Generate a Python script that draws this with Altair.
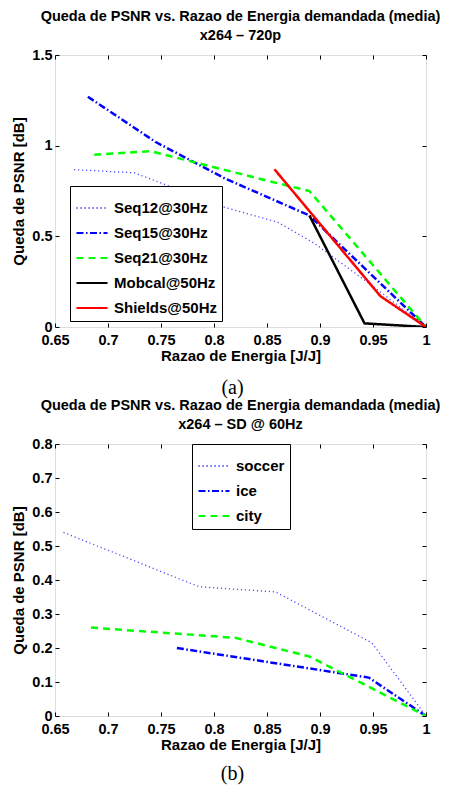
import altair as alt
import pandas as pd

FONT = "Liberation Sans"

# ---------------- Panel (a) data ----------------
a_series = ["Seq12@30Hz", "Seq15@30Hz", "Seq21@30Hz", "Mobcal@50Hz", "Shields@50Hz"]
seq12_x = [0.668, 0.725, 0.81, 0.86, 0.895, 0.95, 1.0]
seq12_y = [0.868, 0.85, 0.66, 0.578, 0.46, 0.225, 0.0]
seq15_x = [0.681, 0.745, 0.81, 0.89, 1.0]
seq15_y = [1.27, 1.02, 0.82, 0.615, 0.0]
seq21_x = [0.687, 0.74, 0.855, 0.89, 1.0]
seq21_y = [0.95, 0.97, 0.80, 0.75, 0.0]
mobcal_x = [0.89, 0.942, 1.0]
mobcal_y = [0.615, 0.02, 0.0]
shields_x = [0.857, 0.957, 1.0]
shields_y = [0.87, 0.17, 0.0]

# ---------------- Panel (b) data ----------------
b_series = ["soccer", "ice", "city"]
soccer_x = [0.658, 0.786, 0.858, 0.949, 1.0]
soccer_y = [0.54, 0.38, 0.365, 0.215, 0.0]
ice_x = [0.765, 0.946, 1.0]
ice_y = [0.20, 0.113, 0.0]
city_x = [0.684, 0.82, 0.89, 1.0]
city_y = [0.26, 0.23, 0.175, 0.0]

x_ticks = [0.65, 0.7, 0.75, 0.8, 0.85, 0.9, 0.95, 1.0]
a_yticks = [0, 0.5, 1, 1.5]
b_yticks = [0, 0.1, 0.2, 0.3, 0.4, 0.5, 0.6, 0.7, 0.8]

title_line1 = "Queda de PSNR vs. Razao de Energia demandada (media)"
a_title2 = "x264 \u2013 720p"
b_title2 = "x264 \u2013 SD @ 60Hz"
x_title = "Razao de Energia [J/J]"
y_title = "Queda de PSNR [dB]"


def make_df(names, xs, ys, field):
    rows = []
    for n, xv, yv in zip(names, xs, ys):
        for i, (a, b) in enumerate(zip(xv, yv)):
            rows.append({field: n, "x": a, "y": b, "i": i})
    return pd.DataFrame(rows)


df_a = make_df(a_series, [seq12_x, seq15_x, seq21_x, mobcal_x, shields_x],
               [seq12_y, seq15_y, seq21_y, mobcal_y, shields_y], "seqA")
df_b = make_df(b_series, [soccer_x, ice_x, city_x], [soccer_y, ice_y, city_y], "seqB")

W, H = 371, 272

DOT = [1.2, 2.8]
DASHDOT = [7, 2.5, 1.5, 2.5]
DASH = [7, 5]
SOLID = [1, 0]


def panel(df, series, colors, dashes, thin_name, ydomain, yticks, title2,
          lx, ly, caption, cap_y, field):
    xs = alt.Scale(domain=[0.65, 1.0], nice=False, zero=False)
    ys = alt.Scale(domain=ydomain, nice=False, zero=False)
    legend = alt.Legend(
        orient="none", legendX=lx, legendY=ly, title=None,
        strokeColor="black", fillColor="white", padding=5,
        symbolType="stroke", symbolSize=961, symbolStrokeWidth=2.2,
        labelFont=FONT, labelFontSize=15, labelFontWeight="bold",
        labelColor="black", labelOffset=5, rowPadding=0, labelLimit=0,
    )
    color = alt.Color(f"{field}:N", scale=alt.Scale(domain=series, range=colors), legend=legend)
    dash = alt.StrokeDash(f"{field}:N", scale=alt.Scale(domain=series, range=dashes), legend=legend)

    ax_common = dict(offset=-4, tickSize=4, domain=False, grid=False,
                     tickColor="black", tickWidth=1)
    x_bot = alt.Axis(orient="bottom", values=x_ticks, format="~g", title=x_title,
                     labelFont=FONT, labelFontSize=14.5, labelFontWeight="bold",
                     labelColor="black", labelPadding=6, titleFont=FONT,
                     titleFontSize=15, titleFontWeight="bold", titleColor="black",
                     titlePadding=2, labelFlush=False, labelOverlap=False, **ax_common)
    y_left = alt.Axis(orient="left", values=yticks, format="~g", title=y_title,
                      labelFont=FONT, labelFontSize=14.5, labelFontWeight="bold",
                      labelColor="black", labelPadding=3, titleFont=FONT,
                      titleFontSize=15, titleFontWeight="bold", titleColor="black",
                      titlePadding=5, labelFlush=False, labelOverlap=False, **ax_common)
    x_top = alt.Axis(orient="top", values=x_ticks, labels=False, title=None, **ax_common)
    y_right = alt.Axis(orient="right", values=yticks, labels=False, title=None, **ax_common)

    base = alt.Chart(df)
    thin = base.transform_filter(alt.datum[field] == thin_name).mark_line(
        strokeWidth=1.3, clip=True
    ).encode(
        x=alt.X("x:Q", scale=xs, axis=x_bot),
        y=alt.Y("y:Q", scale=ys, axis=y_left),
        color=color, strokeDash=dash, order="i:Q",
    )
    thick = base.transform_filter(alt.datum[field] != thin_name).mark_line(
        strokeWidth=2.5, clip=True
    ).encode(
        x=alt.X("x:Q", scale=xs, axis=x_top),
        y=alt.Y("y:Q", scale=ys, axis=y_right),
        color=color, strokeDash=dash, order="i:Q",
    )
    cap = alt.Chart(pd.DataFrame({"t": [caption]})).mark_text(
        font="Liberation Serif", fontSize=20, baseline="middle", align="center",
        color="black"
    ).encode(text="t:N", x=alt.value(W / 2 - 8), y=alt.value(cap_y))

    return alt.layer(thin, thick, cap).resolve_axis(x="independent", y="independent").properties(
        width=W, height=H,
        title=alt.TitleParams(
            text=[title_line1, title2], font=FONT, fontSize=14.5, fontWeight="bold",
            color="black", anchor="middle", frame="group", offset=4, lineHeight=19,
        ),
    )


blue_dot = "#4a4aff"
pa = panel(df_a, a_series, [blue_dot, "#0000ff", "#00ff00", "#000000", "#ff0000"],
           [DOT, DASHDOT, DASH, SOLID, SOLID], "Seq12@30Hz", [0, 1.5], a_yticks,
           a_title2, 15, 131, "(a)", H + 61, "seqA")
pb = panel(df_b, b_series, [blue_dot, "#0000ff", "#00ff00"],
           [DOT, DASHDOT, DASH], "soccer", [0, 0.8], b_yticks,
           b_title2, 137, 0, "(b)", H + 58, "seqB")

chart = alt.vconcat(pa, pb, spacing=-2).resolve_scale(
    color="independent", strokeDash="independent"
).resolve_legend(color="independent", strokeDash="independent").properties(
    padding={"left": 3, "top": 0, "right": 0, "bottom": 0}
).configure_view(stroke="black", strokeWidth=1.3).configure(font=FONT)

chart.save("out.html", embed_options={"renderer": "svg", "actions": False})
